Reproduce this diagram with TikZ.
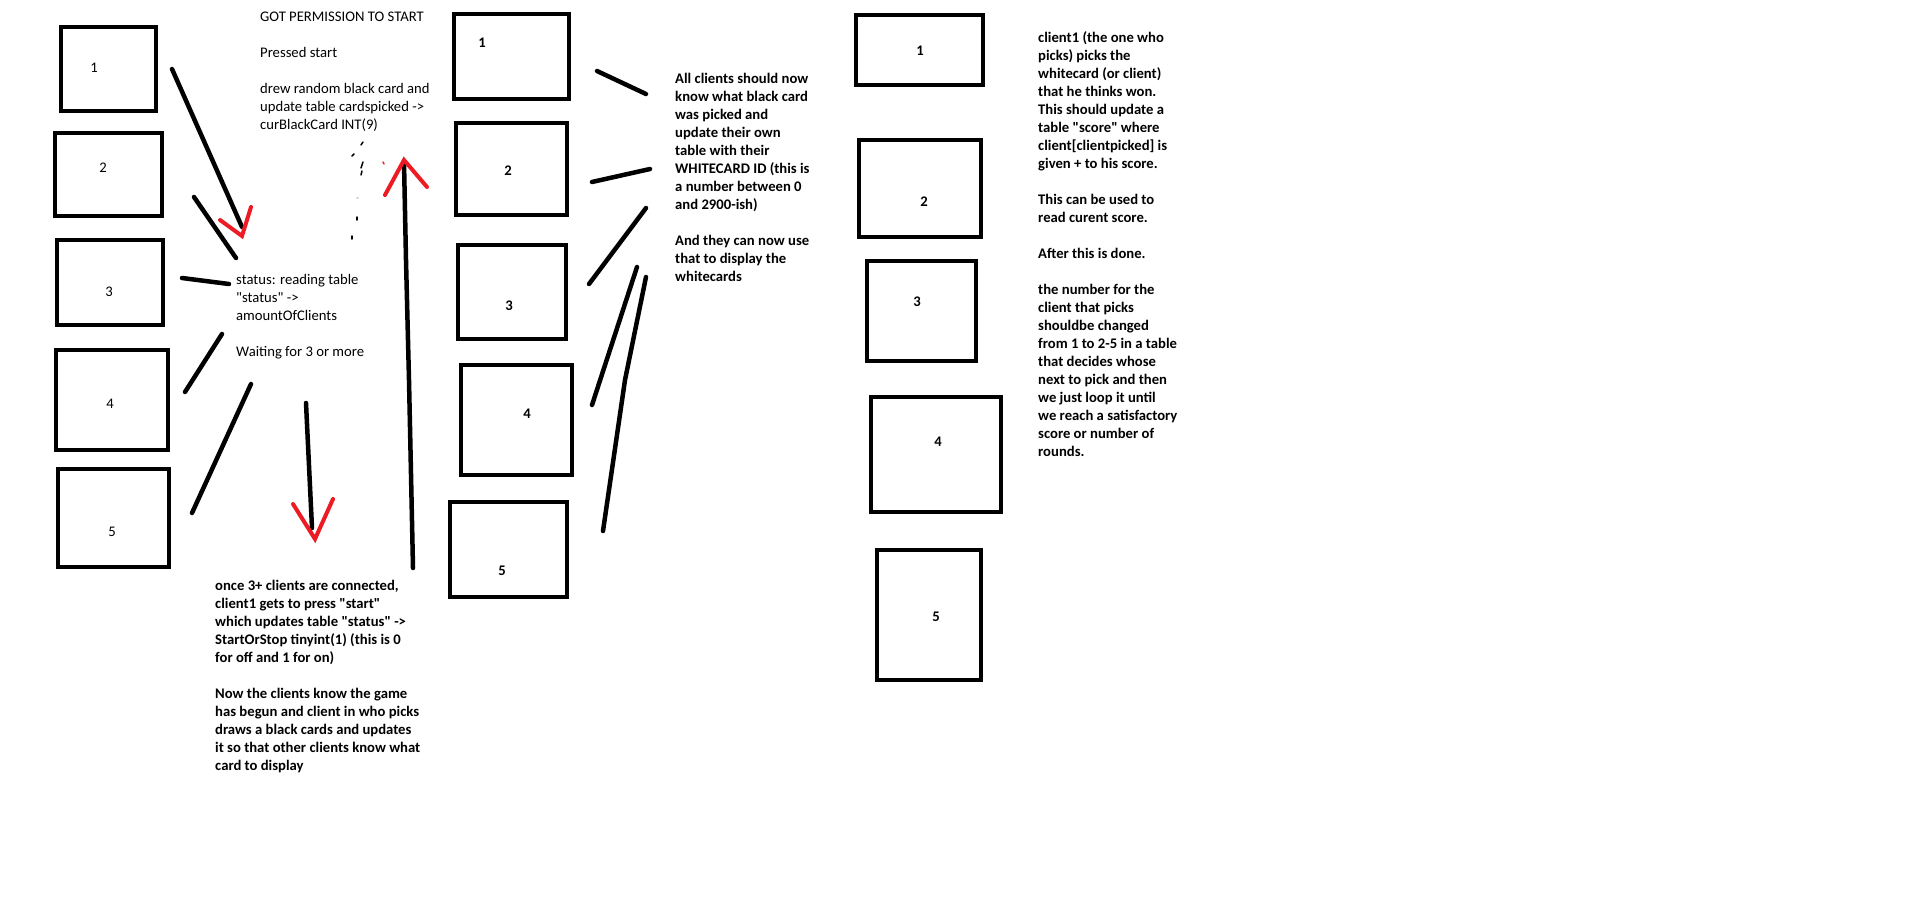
\documentclass[tikz,border=0pt]{standalone}
\usepackage{fontspec}
\setmainfont{Carlito}[Ligatures=TeXOff]
\definecolor{paintred}{HTML}{ED1C24}
\tikzset{
  box/.style={draw=black, line width=4.3pt, inner sep=0pt, outer sep=0pt},
  num/.style={inner sep=0pt, font=\fontsize{14.67}{18}\selectfont},
  numb/.style={inner sep=0pt, font=\fontsize{14.67}{18}\selectfont\bfseries},
  txt/.style={align=left, anchor=base west, inner sep=0pt, font=\fontsize{14.67}{18}\selectfont},
  txtb/.style={txt, font=\fontsize{14.67}{18}\selectfont\bfseries},
  stroke/.style={line width=4.5pt, line cap=round, line join=round},
  redhead/.style={draw=paintred, line width=4pt, line cap=round, line join=miter},
  speck/.style={line width=1.5pt, line cap=round}
}
\begin{document}
\begin{tikzpicture}[x=1pt,y=-1pt]
\fill[white] (0,0) rectangle (1911,907);
\useasboundingbox (0,0) rectangle (1911,907);

% ---- column 1 boxes
\node[box, minimum width=94.7pt, minimum height=83.7pt] (a1) at (108.5,69) {};
\node[box, minimum width=106.7pt, minimum height=82.7pt] (a2) at (108.5,174.5) {};
\node[box, minimum width=105.7pt, minimum height=84.7pt] (a3) at (110,282.5) {};
\node[box, minimum width=111.7pt, minimum height=99.7pt] (a4) at (112,400) {};
\node[box, minimum width=110.7pt, minimum height=97.7pt] (a5) at (113.5,518) {};
\node[num] (la1) at (94,68) {1};
\node[num] (la2) at (103,168) {2};
\node[num] (la3) at (109,292) {3};
\node[num] (la4) at (110,404) {4};
\node[num] (la5) at (112,532) {5};

% ---- column 2 boxes
\node[box, minimum width=114.7pt, minimum height=84.7pt] (b1) at (511.5,56.5) {};
\node[box, minimum width=110.7pt, minimum height=91.7pt] (b2) at (511.5,169) {};
\node[box, minimum width=107.7pt, minimum height=93.7pt] (b3) at (512,292) {};
\node[box, minimum width=110.7pt, minimum height=109.7pt] (b4) at (516.5,420) {};
\node[box, minimum width=116.7pt, minimum height=94.7pt] (b5) at (508.5,549.5) {};
\node[numb] (lb1) at (482,43) {1};
\node[numb] (lb2) at (508,171) {2};
\node[numb] (lb3) at (509,306) {3};
\node[numb] (lb4) at (527,414) {4};
\node[numb] (lb5) at (502,571) {5};

% ---- column 3 boxes
\node[box, minimum width=126.7pt, minimum height=69.7pt] (c1) at (919.5,50) {};
\node[box, minimum width=121.7pt, minimum height=96.7pt] (c2) at (920,188.5) {};
\node[box, minimum width=108.7pt, minimum height=99.7pt] (c3) at (921.5,311) {};
\node[box, minimum width=129.7pt, minimum height=114.7pt] (c4) at (936,454.5) {};
\node[box, minimum width=103.7pt, minimum height=129.7pt] (c5) at (929,615) {};
\node[numb] (lc1) at (920,51) {1};
\node[numb] (lc2) at (924,202) {2};
\node[numb] (lc3) at (917,302) {3};
\node[numb] (lc4) at (938,442) {4};
\node[numb] (lc5) at (936,617) {5};

% ---- texts (anchored at the baseline of their last line)
\node[txt] (t1) at (260,129) {GOT PERMISSION TO START\\[18pt]Pressed start\\[18pt]drew random black card and\\update table cardspicked ->\\curBlackCard INT(9)};
\node[txt] (t2) at (236,356) {status: reading table\\"status" ->\\amountOfClients\\[18pt]Waiting for 3 or more};
\node[txtb] (t3) at (215,770) {once 3+ clients are connected,\\client1 gets to press "start"\\which updates table "status" ->\\StartOrStop tinyint(1) (this is 0\\for off and 1 for on)\\[18pt]Now the clients know the game\\has begun and client in who picks\\draws a black cards and updates\\it so that other clients know what\\card to display};
\node[txtb] (t4) at (675,281) {All clients should now\\know what black card\\was picked and\\update their own\\table with their\\WHITECARD ID (this is\\a number between 0\\and 2900-ish)\\[18pt]And they can now use\\that to display the\\whitecards};
\node[txtb] (t5) at (1038,456) {client1 (the one who\\picks) picks the\\whitecard (or client)\\that he thinks won.\\This should update a\\table "score" where\\client[clientpicked] is\\given + to his score.\\[18pt]This can be used to\\read curent score.\\[18pt]After this is done.\\[18pt]the number for the\\client that picks\\shouldbe changed\\from 1 to 2-5 in a table\\that decides whose\\next to pick and then\\we just loop it until\\we reach a satisfactory\\score or number of\\rounds.};

% ---- strokes, column 1
\draw[stroke] (172,69) -- (242,227);
\draw[redhead] (220,220) -- (242,236) -- (251,207);
\draw[stroke] (194,197) -- (236,258);
\draw[stroke] (182,278) -- (229,284);
\draw[stroke] (222,334) -- (185,392);
\draw[stroke] (251,384) -- (192,513);
\draw[stroke] (306,403) -- (312,528);
\draw[redhead] (293,504) -- (315,539) -- (333,499);
\draw[stroke] (413,568) -- (409,380) -- (406,260) -- (404,162);
\draw[redhead] (385,195) -- (404,160) -- (427,187);

% ---- specks
\draw[speck] (361,145) -- (363,142);
\draw[speck] (352,156) -- (354,154);
\draw[speck] (363,162) -- (361,168);
\draw[speck] (362,171) -- (361,175);
\draw[speck, gray!40] (357,198) -- (358,198);
\draw[speck] (357,217) -- (357,220);
\draw[speck] (352,236) -- (352,239);
\draw[speck, paintred] (383,162) -- (384,164);

% ---- strokes, column 2
\draw[stroke] (597,71) -- (646,94);
\draw[stroke] (592,182) -- (650,169);
\draw[stroke] (646,208) -- (589,284);
\draw[stroke] (637,267) -- (592,405);
\draw[stroke] (646,277) -- (625,380) -- (603,531);
\end{tikzpicture}
\end{document}
